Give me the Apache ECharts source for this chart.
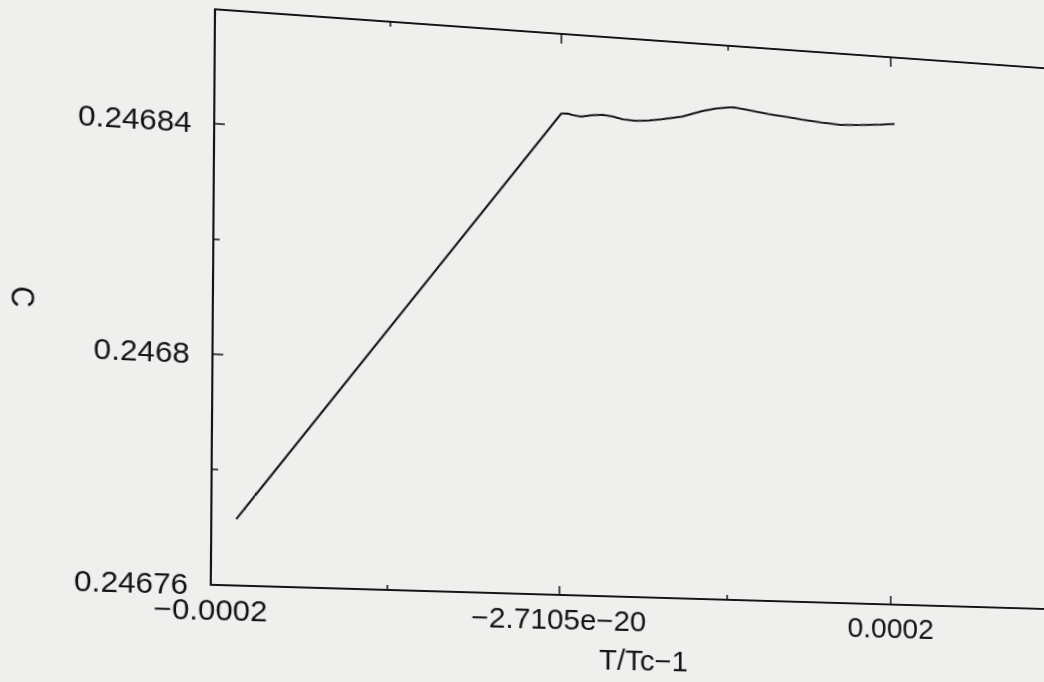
<!DOCTYPE html>
<html>
<head>
<meta charset="utf-8">
<script src="https://cdn.jsdelivr.net/npm/echarts@6/dist/echarts.min.js"></script>
<style>
html,body{margin:0;padding:0;background:#efefed;overflow:hidden;width:1044px;height:682px}
#chart{width:1044px;height:682px;transform-origin:0 0;}
</style>
</head>
<body>
<div id="chart"></div>
<script>
// ---- data ----
const xValues = [-0.000186, 0, 0.0000039, 0.0000068, 0.0000118, 0.0000187, 0.0000246, 0.0000306, 0.0000365, 0.0000444, 0.0000523, 0.0000602, 0.0000721, 0.0000840, 0.0000919, 0.0000998, 0.0001038, 0.0001120, 0.0001242, 0.0001384, 0.0001445, 0.0001567, 0.0001689, 0.0001811, 0.0001933, 0.0002024];
const cValues = [0.2467715, 0.2468457, 0.2468458, 0.2468456, 0.2468454, 0.2468458, 0.2468460, 0.2468458, 0.2468454, 0.2468453, 0.2468455, 0.2468459, 0.2468466, 0.2468478, 0.2468484, 0.2468488, 0.2468489, 0.2468486, 0.2468481, 0.2468477, 0.2468475, 0.2468472, 0.2468470, 0.2468472, 0.2468475, 0.2468478];
const xMajorTicks = [-0.0002, 0, 0.0002];
const xMinorTicks = [-0.0001, 0.0001];
const xTickLabels = ['\u22120.0002', '\u22122.7105e\u221220', '0.0002'];
const yMajorTicks = [0.24676, 0.2468, 0.24684];
const yMinorTicks = [0.24678, 0.24682];
const yTickLabels = ['0.24676', '0.2468', '0.24684'];
const xRange = [-0.0002, 0.0003];
const yRange = [0.24676, 0.24686];
const xName = 'T/Tc\u22121';
const yName = 'C';

const FONT = "'Liberation Sans', Arial, Helvetica, sans-serif";
const INK = '#141414';

function pick(ticks, labels) {
  return function (v) {
    for (let i = 0; i < ticks.length; i++) if (Math.abs(v - ticks[i]) < 1e-12) return labels[i];
    return '';
  };
}

function xAx(pos, ticks, len, showLine, showLabel) {
  return {
    type: 'value', position: pos, min: xRange[0], max: xRange[1],
    axisLine: { show: showLine, onZero: false, lineStyle: { color: INK, width: 2 } },
    axisTick: { show: true, inside: true, length: len, customValues: ticks, lineStyle: { color: INK, width: 1.5 } },
    axisLabel: showLabel ? { show: true, customValues: xMajorTicks, formatter: pick(xMajorTicks, xTickLabels), margin: 11, color: INK, fontSize: 29, fontFamily: FONT } : { show: false },
    splitLine: { show: false },
    name: showLabel ? xName : '', nameLocation: 'middle', nameGap: 51,
    nameTextStyle: { color: INK, fontSize: 29, fontFamily: FONT }
  };
}
function yAx(pos, ticks, len, showLine, showLabel) {
  return {
    type: 'value', position: pos, min: yRange[0], max: yRange[1],
    axisLine: { show: showLine, onZero: false, lineStyle: { color: INK, width: 2 } },
    axisTick: { show: true, inside: true, length: len, customValues: ticks, lineStyle: { color: INK, width: 1.5 } },
    axisLabel: showLabel ? { show: true, customValues: yMajorTicks, formatter: pick(yMajorTicks, yTickLabels), margin: 21, padding: [10, 0, 0, 0], color: INK, fontSize: 29, fontFamily: FONT } : { show: false },
    splitLine: { show: false },
    name: showLabel ? yName : '', nameLocation: 'middle', nameGap: 160, nameRotate: -90,
    nameTextStyle: { color: INK, fontSize: 29, fontFamily: FONT, padding: [0, 0, 0, 20] }
  };
}

const chart = echarts.init(document.getElementById('chart'), null, { renderer: 'svg' });
chart.setOption({
  animation: false,
  backgroundColor: 'transparent',
  grid: { left: 214, top: 9, right: -16, bottom: 97, containLabel: false },
  xAxis: [
    xAx('bottom', xMajorTicks, 9, true, true),
    xAx('bottom', xMinorTicks, 5, false, false),
    xAx('top', xMajorTicks, 10, true, false),
    xAx('top', xMinorTicks, 5, false, false)
  ],
  yAxis: [
    yAx('left', yMajorTicks, 10, true, true),
    yAx('left', yMinorTicks, 6, false, false)
  ],
  series: [{
    type: 'line', xAxisIndex: 0, yAxisIndex: 0,
    data: xValues.map((x, i) => [x, cValues[i]]),
    showSymbol: false, smooth: false,
    lineStyle: { color: INK, width: 2 }
  }]
});

// Perspective of the photographed page: map the plot frame corners onto where they sit in the photo.
function solve(A, b) {
  const n = b.length;
  for (let i = 0; i < n; i++) A[i].push(b[i]);
  for (let c = 0; c < n; c++) {
    let p = c;
    for (let r = c + 1; r < n; r++) if (Math.abs(A[r][c]) > Math.abs(A[p][c])) p = r;
    [A[c], A[p]] = [A[p], A[c]];
    for (let r = 0; r < n; r++) {
      if (r === c) continue;
      const f = A[r][c] / A[c][c];
      for (let k = c; k <= n; k++) A[r][k] -= f * A[c][k];
    }
  }
  return A.map((row, i) => row[n] / row[i]);
}
function homography(src, dst) {
  const A = [], b = [];
  for (let i = 0; i < 4; i++) {
    const [x, y] = src[i], [u, v] = dst[i];
    A.push([x, y, 1, 0, 0, 0, -u * x, -u * y]); b.push(u);
    A.push([0, 0, 0, x, y, 1, -v * x, -v * y]); b.push(v);
  }
  return solve(A, b);
}
const corners = [[xRange[0], yRange[1]], [xRange[0], yRange[0]], [xMajorTicks[2], yRange[0]], [xMajorTicks[2], yRange[1]]];
const src = corners.map(p => chart.convertToPixel({ gridIndex: 0 }, p));
const dst = [[215, 9.3], [210.8, 584.8], [890.7, 604.5], [890.7, 57.3]];
const h = homography(src, dst);
document.getElementById('chart').style.transform =
  `matrix3d(${h[0]},${h[3]},0,${h[6]},${h[1]},${h[4]},0,${h[7]},0,0,1,0,${h[2]},${h[5]},0,1)`;
</script>
</body>
</html>
